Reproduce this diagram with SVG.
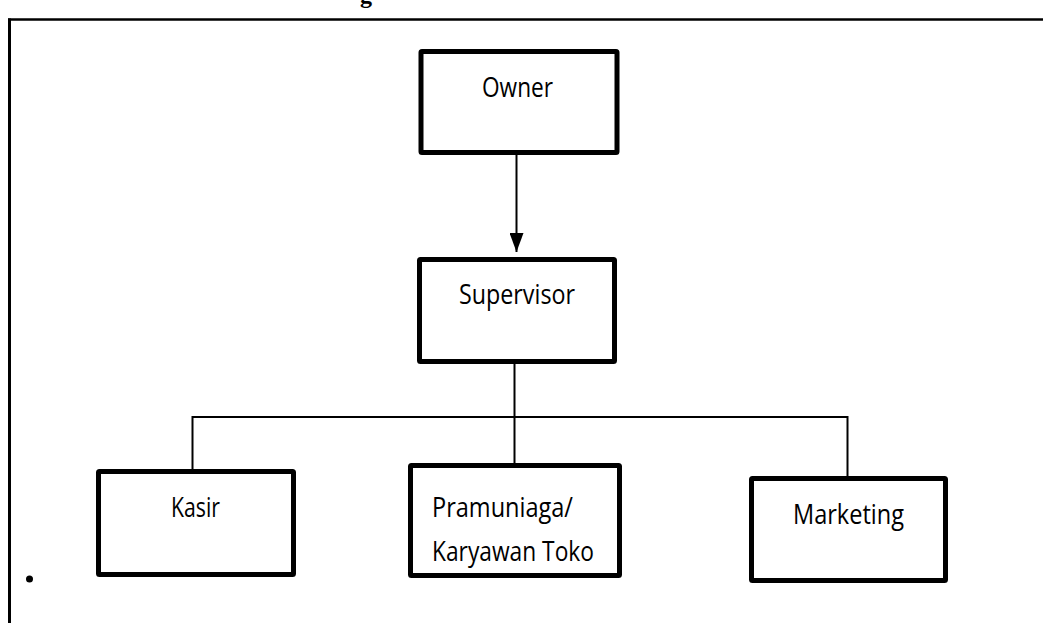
<svg xmlns="http://www.w3.org/2000/svg" width="1043" height="623" viewBox="0 0 1043 623">
  <style>
    .box { fill: #ffffff; stroke: #000000; stroke-width: 5; }
    .lbl { font-family: "Open Sans", "Noto Sans", "Liberation Sans", sans-serif; font-size: 28px; fill: #000000; }
    .conn { stroke: #000000; stroke-width: 2; fill: none; }
    .frame { stroke: #000000; fill: none; }
  </style>
  <defs>
    <marker id="arrow" markerUnits="userSpaceOnUse" markerWidth="19" markerHeight="14" refX="19" refY="7" orient="auto">
      <path d="M0,0 L19,7 L0,14 z" fill="#000000"/>
    </marker>
  </defs>
  <rect width="1043" height="623" fill="#ffffff"/>
  <text x="360" y="3" font-family="Liberation Serif, serif" font-weight="bold" font-size="24" fill="#000000">g</text>
  <g id="frame">
    <line class="frame" x1="8" y1="19.5" x2="1043" y2="19.5" stroke-width="2.5"/>
    <line class="frame" x1="9.5" y1="18.5" x2="9.5" y2="623" stroke-width="3"/>
  </g>
  <circle cx="29.5" cy="579" r="3.5" fill="#000000"/>
  <g id="connectors">
    <line class="conn" x1="516.5" y1="154" x2="516.5" y2="252" stroke-width="2.5" marker-end="url(#arrow)"/>
    <line class="conn" x1="514.5" y1="362" x2="514.5" y2="465"/>
    <line class="conn" x1="192" y1="417" x2="848" y2="417"/>
    <line class="conn" x1="192.5" y1="416" x2="192.5" y2="470"/>
    <line class="conn" x1="847.5" y1="416" x2="847.5" y2="477"/>
  </g>
  <g id="owner">
    <rect class="box" x="421" y="51.5" width="196" height="101" rx="1"/>
    <text class="lbl" x="482" y="97" textLength="71" lengthAdjust="spacingAndGlyphs">Owner</text>
  </g>
  <g id="supervisor">
    <rect class="box" x="419.5" y="259.5" width="195" height="102" rx="1"/>
    <text class="lbl" x="459" y="304" textLength="116" lengthAdjust="spacingAndGlyphs">Supervisor</text>
  </g>
  <g id="kasir">
    <rect class="box" x="98.5" y="471.5" width="195" height="103" rx="1"/>
    <text class="lbl" x="171" y="517" textLength="49" lengthAdjust="spacingAndGlyphs">Kasir</text>
  </g>
  <g id="pramuniaga">
    <rect class="box" x="410.5" y="465.5" width="209" height="110" rx="1"/>
    <text class="lbl" x="432" y="517" textLength="141" lengthAdjust="spacingAndGlyphs">Pramuniaga/</text>
    <text class="lbl" x="432" y="561" textLength="162" lengthAdjust="spacingAndGlyphs">Karyawan Toko</text>
  </g>
  <g id="marketing">
    <rect class="box" x="751.5" y="478.5" width="194" height="102" rx="1"/>
    <text class="lbl" x="793" y="524" textLength="111" lengthAdjust="spacingAndGlyphs">Marketing</text>
  </g>
</svg>
